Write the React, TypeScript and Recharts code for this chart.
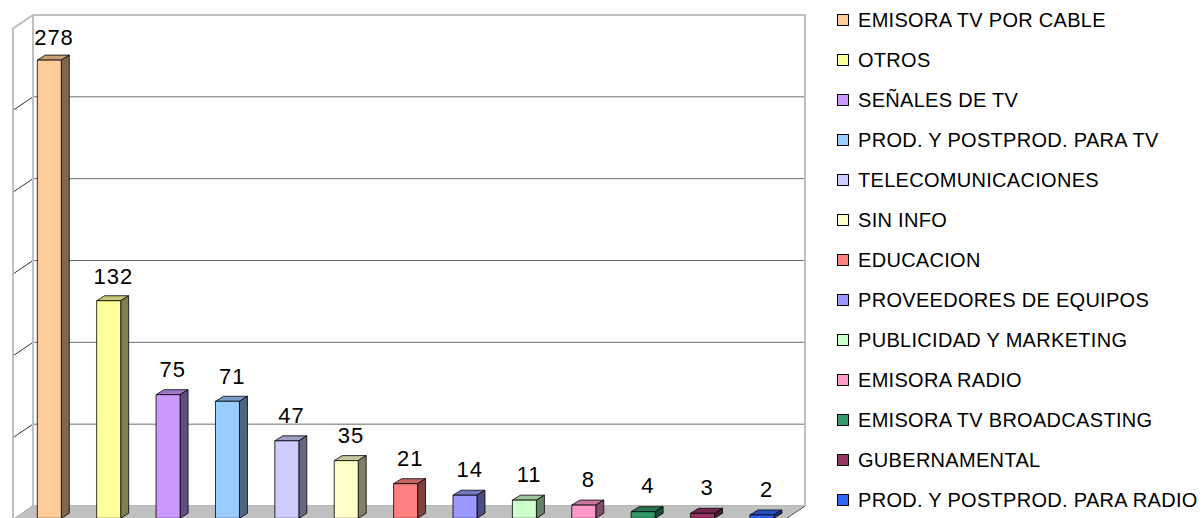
import { BarChart, Bar, XAxis, YAxis, CartesianGrid, ReferenceArea, Cell, LabelList } from 'recharts'

const categories = [
  'EMISORA TV POR CABLE',
  'OTROS',
  'SEÑALES DE TV',
  'PROD. Y POSTPROD. PARA TV',
  'TELECOMUNICACIONES',
  'SIN INFO',
  'EDUCACION',
  'PROVEEDORES DE EQUIPOS',
  'PUBLICIDAD Y MARKETING',
  'EMISORA RADIO',
  'EMISORA TV BROADCASTING',
  'GUBERNAMENTAL',
  'PROD. Y POSTPROD. PARA RADIO',
]
const counts = [278, 132, 75, 71, 47, 35, 21, 14, 11, 8, 4, 3, 2]
const colors = [
  '#FFCC99', '#FFFF99', '#CC99FF', '#99CCFF', '#CCCCFF', '#FFFFCC', '#FF8080',
  '#9999FF', '#CCFFCC', '#FF99CC', '#339966', '#993366', '#3366FF',
]
const yTicks = [50, 100, 150, 200, 250]

const data = categories.map((name, i) => ({ name, value: counts[i] }))

const FONT = '"Liberation Sans", Arial, sans-serif'
// perspective of the walls, and of a single bar
const WX = 20
const WY = 13.5
const FRONT_X = -13.7 // front face shift from the back-wall band
const FRONT_Y = 12.3 // front face baseline below the back-wall floor
const PERSP = 1.007 // bars sit a little closer, so they look a bit taller
const BX = 8
const BY = 5

function shade(hex: string, k: number) {
  const n = parseInt(hex.slice(1), 16)
  const r = Math.round(((n >> 16) & 255) * k)
  const g = Math.round(((n >> 8) & 255) * k)
  const b = Math.round((n & 255) * k)
  return `rgb(${r},${g},${b})`
}

function Bar3D(props: any) {
  const { x, y, width: w, height: h, fill } = props
  const fx = x + FRONT_X
  const fb = y + h + FRONT_Y
  const fh = h * PERSP
  const fy = fb - fh
  const bx = fx + BX
  const by = fy - BY
  return (
    <g stroke="#000" strokeWidth={0.8} strokeLinejoin="round">
      <polygon points={`${fx},${fy} ${fx + w},${fy} ${bx + w},${by} ${bx},${by}`} fill={shade(fill, 0.78)} />
      <polygon points={`${fx + w},${fy} ${bx + w},${by} ${bx + w},${by + fh} ${fx + w},${fy + fh}`} fill={shade(fill, 0.5)} />
      <rect x={fx} y={fy} width={w} height={fh} fill={fill} />
    </g>
  )
}

function Walls(props: any) {
  const { x, y, width, height } = props
  const r = x + width
  const b = y + height
  return (
    <g>
      <polygon points={`${x},${b} ${r},${b} ${r - WX},${b + WY} ${x - WX},${b + WY}`} fill="#c0c0c0" />
      <line x1={r} y1={b} x2={r - WX} y2={b + WY} stroke="#555" strokeWidth={1} />
      <polyline points={`${x - WX},${b + WY} ${x - WX},${y + WY} ${x},${y} ${r},${y} ${r},${b}`} fill="none" stroke="#c0c0c0" strokeWidth={2} />
      <line x1={x} y1={y} x2={x} y2={b} stroke="#c0c0c0" strokeWidth={2} />
      <line x1={x} y1={b} x2={x - WX} y2={b + WY} stroke="#c0c0c0" strokeWidth={1} />
    </g>
  )
}

function GridLine(props: any) {
  const { x1, y1, x2, y2 } = props
  return (
    <g key={props.key}>
      <line x1={x1} y1={y1} x2={x2} y2={y2} stroke="#6e6e6e" strokeWidth={1} />
      <line x1={x1 - WX} y1={y1 + WY} x2={x1} y2={y1} stroke="#333" strokeWidth={1} />
    </g>
  )
}

function ValueLabel(props: any) {
  const { x, y, width, value } = props
  return (
    <text x={x + width / 2 - 9} y={y - 6} textAnchor="middle" fontSize={22} fontFamily={FONT} fill="#000" letterSpacing={1}>
      {value}
    </text>
  )
}

export default function App() {
  return (
    <div style={{ position: 'absolute', left: 0, top: 0, width: 1202, height: 518, background: '#fff', overflow: 'hidden' }}>
      <BarChart width={1202} height={518} data={data} margin={{ top: 15, right: 397, bottom: 12, left: 33 }}>
        <XAxis dataKey="name" hide />
        <YAxis hide domain={[0, 300]} ticks={yTicks} />
        <ReferenceArea y1={0} y2={300} ifOverflow="visible" shape={Walls} />
        <CartesianGrid vertical={false} horizontal={GridLine as any} />
        <Bar dataKey="value" barSize={24} shape={Bar3D} isAnimationActive={false}>
          {data.map((d, i) => (
            <Cell key={d.name} fill={colors[i]} />
          ))}
          <LabelList dataKey="value" content={ValueLabel} />
        </Bar>
      </BarChart>
      <div style={{ position: 'absolute', left: 837, top: 0, fontFamily: FONT, fontSize: 20, color: '#000' }}>
        {categories.map((name, i) => (
          <div key={name} style={{ height: 40, display: 'flex', alignItems: 'center', whiteSpace: 'nowrap' }}>
            <span style={{ width: 10, height: 10, border: '1px solid #000', background: colors[i], marginRight: 9, flex: 'none' }} />
            <span style={{ letterSpacing: 0.3 }}>{name}</span>
          </div>
        ))}
      </div>
    </div>
  )
}
